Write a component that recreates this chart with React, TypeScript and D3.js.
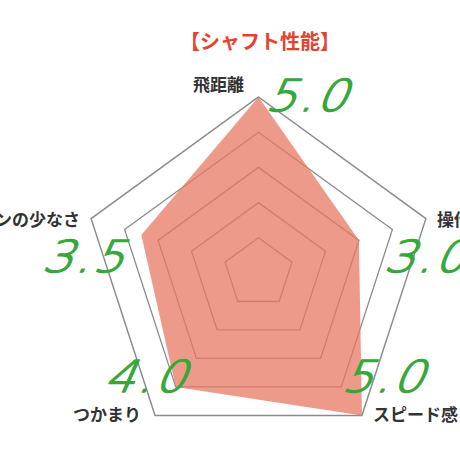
import React from "react";
import * as d3 from "d3";

const axes = ["飛距離", "操作性", "スピード感", "つかまり", "スピンの少なさ"];
const values = [5.0, 3.0, 5.0, 4.0, 3.5];
const valueLabels = ["5.0", "3.0", "5.0", "4.0", "3.5"];
const gridLevels = [1, 2, 3, 4];
const maxValue = 5;
const title = "【シャフト性能】";

const W = 460;
const H = 460;
const cx = 258.5;
const cy = 273;
const R = 176;

// per-axis label placement (style only)
const labelStyle = [
  { dx: -40, dy: -6, anchor: "middle" },
  { dx: 11, dy: 7, anchor: "start" },
  { dx: 11, dy: 6, anchor: "start" },
  { dx: -14, dy: 6, anchor: "end" },
  { dx: -11, dy: 7, anchor: "end" },
];
const numStyle = [
  { dx: 6, dy: 14 },
  { dx: -43, dy: 53 },
  { dx: -21, dy: -23 },
  { dx: -52, dy: -23 },
  { dx: -50, dy: 53 },
];

export default function App() {
  const r = d3.scaleLinear().domain([0, maxValue]).range([0, R]);
  const angle = (i: number) => (i * 2 * Math.PI) / axes.length;
  const line = d3
    .lineRadial<number>()
    .angle((_, i) => angle(i))
    .radius((d) => r(d))
    .curve(d3.curveLinearClosed);
  const pt = (i: number, v: number) => {
    const a = angle(i);
    return [Math.sin(a) * r(v), -Math.cos(a) * r(v)];
  };
  const ring = (lv: number) => line(axes.map(() => lv)) || "";

  return (
    <svg
      width={W}
      height={H}
      style={{ position: "fixed", left: 0, top: 0, background: "#fff" }}
    >
      <text
        x={260}
        y={49}
        textAnchor="middle"
        fontFamily="Noto Sans CJK JP"
        fontWeight={700}
        fontSize={20}
        fill="#e5432e"
      >
        {title}
      </text>
      <g transform={`translate(${cx},${cy})`}>
        {gridLevels.map((lv) => (
          <path key={lv} d={ring(lv)} fill="none" stroke="#8c8c8c" strokeWidth={1.3} />
        ))}
        <path d={line(values) || ""} fill="#e87864" fillOpacity={0.75} stroke="none" />
        <path d={ring(maxValue)} fill="none" stroke="#8c8c8c" strokeWidth={1.5} />
        {axes.map((a, i) => {
          const [x, y] = pt(i, maxValue);
          const s = labelStyle[i];
          return (
            <text
              key={a}
              x={x + s.dx}
              y={y + s.dy}
              textAnchor={s.anchor}
              fontFamily="Noto Sans CJK JP"
              fontWeight={700}
              fontSize={17}
              fill="#333"
            >
              {a}
            </text>
          );
        })}
        {valueLabels.map((t, i) => {
          const [x, y] = pt(i, maxValue);
          const s = numStyle[i];
          return (
            <text
              key={i}
              transform={`translate(${x + s.dx},${y + s.dy}) skewX(-24) scale(1.1,1)`}
              fontFamily="DejaVu Sans"
              fontWeight={200}
              fontSize={44}
              letterSpacing={2}
              fill="#36a83a"
              stroke="#36a83a"
              strokeWidth={1.4}
              strokeLinejoin="round"
            >
              {t}
            </text>
          );
        })}
      </g>
    </svg>
  );
}
